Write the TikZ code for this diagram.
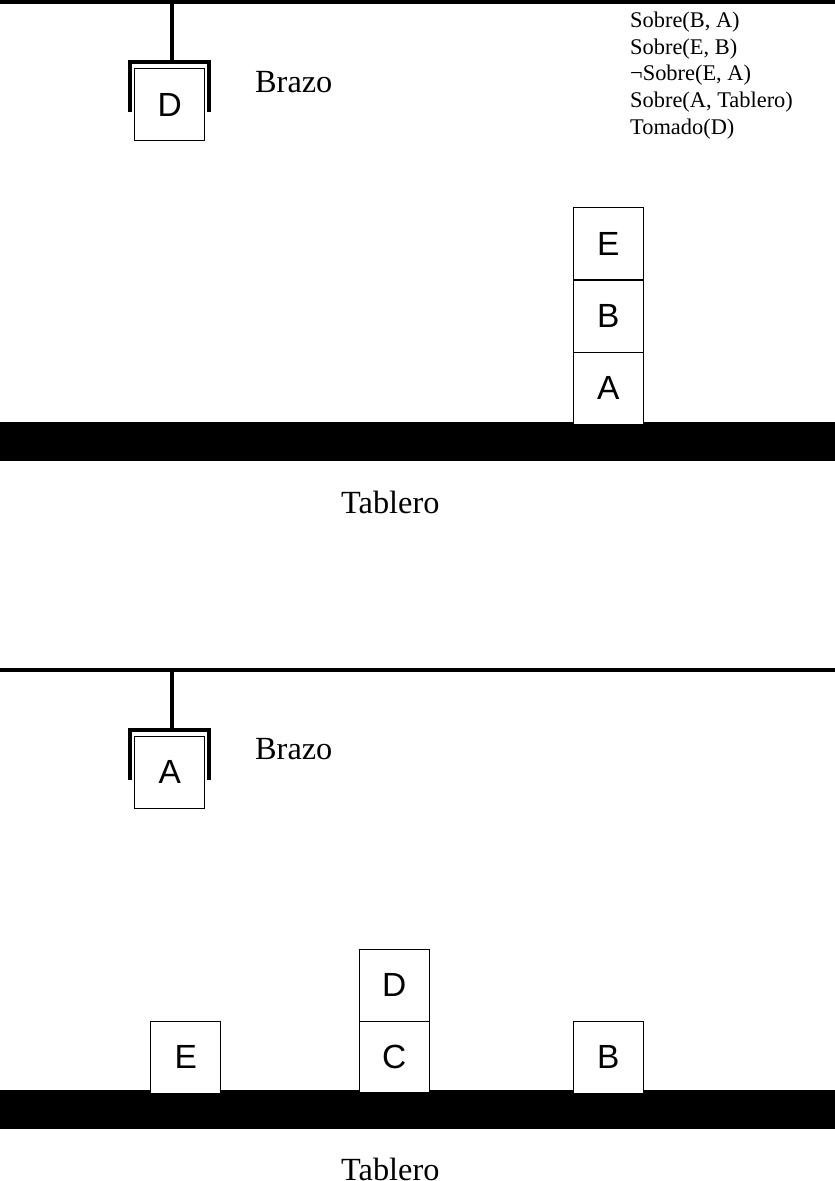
\documentclass[tikz,border=0pt]{standalone}
\usepackage{fontspec}
\setmainfont{Liberation Serif}
\newfontfamily\blockfont{Liberation Sans}
\begin{document}
\begin{tikzpicture}[x=1pt,y=-1pt,
  blockbox/.style={draw=black,line width=1pt,fill=white,minimum width=70pt,minimum height=72pt,inner sep=0pt,font=\blockfont\fontsize{33.5}{38}\selectfont},
  thickline/.style={line width=4pt},
  bigtext/.style={anchor=base west,inner sep=0pt,font=\fontsize{32.3}{38}\selectfont},
  facts/.style={anchor=north west,inner sep=0pt,align=left,font=\fontsize{22.4}{26.6}\selectfont}]
\useasboundingbox (0,0) rectangle (835,1181);
% ---------- top panel ----------
\draw[thickline] (0,2) -- (835,2);
\coordinate (stemtop1) at (172,2);
\coordinate (stembot1) at (172,62);
\draw[thickline] (stemtop1) -- (stembot1);
\draw[thickline,line join=miter] (129.5,112) -- (129.5,62) -- (209,62) -- (209,112);
\node[blockbox] (gD1) at (169.7,104.5) {D};
\node[bigtext] (brazo1) at (255,92) {Brazo};
\node[facts] (facts1) at (630,12) {Sobre(B, A)\\Sobre(E, B)\\¬Sobre(E, A)\\Sobre(A, Tablero)\\Tomado(D)};
\fill[black] (0,422) rectangle (835,461);
\node[blockbox] (tA1) at (608.3,388.2) {A};
\node[blockbox] (tB1) at (608.3,316) {B};
\node[blockbox] (tE1) at (608.3,243.8) {E};
\node[bigtext] (tablero1) at (341,513) {Tablero};
% ---------- bottom panel ----------
\begin{scope}[yshift=-667.5pt]
\draw[thickline] (0,2) -- (835,2);
\coordinate (stemtop2) at (172,2);
\coordinate (stembot2) at (172,62);
\draw[thickline] (stemtop2) -- (stembot2);
\draw[thickline,line join=miter] (129.5,112) -- (129.5,62) -- (209,62) -- (209,112);
\node[blockbox] (gA2) at (169.7,104.5) {A};
\node[bigtext] (brazo2) at (255,92) {Brazo};
\fill[black] (0,422) rectangle (835,461);
\node[blockbox] (bE2) at (185.7,389.5) {E};
\node[blockbox] (bC2) at (394.3,389) {C};
\node[blockbox] (bD2) at (394.3,317.5) {D};
\node[blockbox] (bB2) at (608.3,389.5) {B};
\node[bigtext] (tablero2) at (341,512.5) {Tablero};
\end{scope}
\end{tikzpicture}
\end{document}
